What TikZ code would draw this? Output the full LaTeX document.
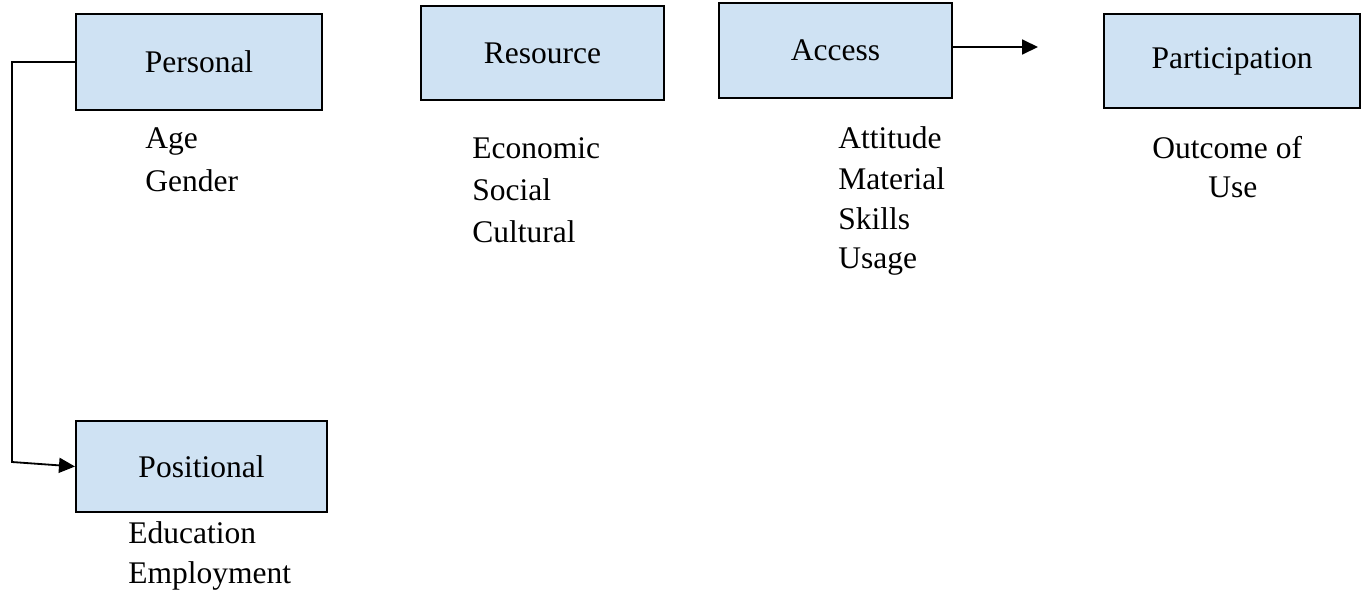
\documentclass[tikz,border=0pt]{standalone}
\usepackage{fontspec}
\setmainfont{Liberation Serif}
\usetikzlibrary{arrows.meta}

\definecolor{boxblue}{RGB}{207,226,243}

\tikzset{
  factorbox/.style={draw, fill=boxblue, line width=1pt, inner sep=0pt, font=\fontsize{15.75}{18}\selectfont},
  itemtext/.style={anchor=base west, inner sep=0pt, font=\fontsize{15.75}{18}\selectfont},
  flowline/.style={line width=0.9pt, -{Triangle[length=8pt,width=7.5pt]}}
}

\begin{document}
\begin{tikzpicture}[x=0.5pt,y=0.5pt,yscale=-1,xscale=1]
	\useasboundingbox (0,0) rectangle (1364,595);

	% Boxes
	\node (personal) [factorbox, minimum width=123pt, minimum height=48pt] at (199,62) {Personal};
	\node (resource) [factorbox, minimum width=121.5pt, minimum height=47pt] at (542.5,53) {Resource};
	\node (access) [factorbox, minimum width=116.5pt, minimum height=47.5pt] at (835.5,50.5) {Access};
	\node (participation) [factorbox, minimum width=128pt, minimum height=47pt] at (1232,61) {Participation};
	\node (positional) [factorbox, minimum width=125.5pt, minimum height=45.5pt] at (201.5,466.5) {Positional};

	% Text Node
	\node (age) [itemtext] at (145,148) {Age};
	\node (gender) [itemtext] at (145,191) {Gender};
	% Text Node
	\node (economic) [itemtext] at (472,158) {Economic};
	\node (social) [itemtext] at (472,200) {Social};
	\node (cultural) [itemtext] at (472,242) {Cultural};
	% Text Node
	\node (attitude) [itemtext] at (838,148) {Attitude};
	\node (material) [itemtext] at (838,189) {Material};
	\node (skills) [itemtext] at (838,229) {Skills};
	\node (usage) [itemtext] at (838,268) {Usage};
	% Text Node
	\node (outcome) [itemtext] at (1152,158) {Outcome of};
	\node (use) [itemtext] at (1208,197) {Use};
	% Text Node
	\node (education) [itemtext] at (128,543) {Education};
	\node (employment) [itemtext] at (128,583) {Employment};

	% Connectors
	\coordinate (bendtop) at (12,62);
	\coordinate (bendbottom) at (12,462);
	\draw [flowline] (personal.west) -- (bendtop) -- (bendbottom) -- (positional.west);

	\coordinate (accesstip) at (1038,47);
	\draw [flowline] (access.east |- accesstip) -- (accesstip);
\end{tikzpicture}
\end{document}
